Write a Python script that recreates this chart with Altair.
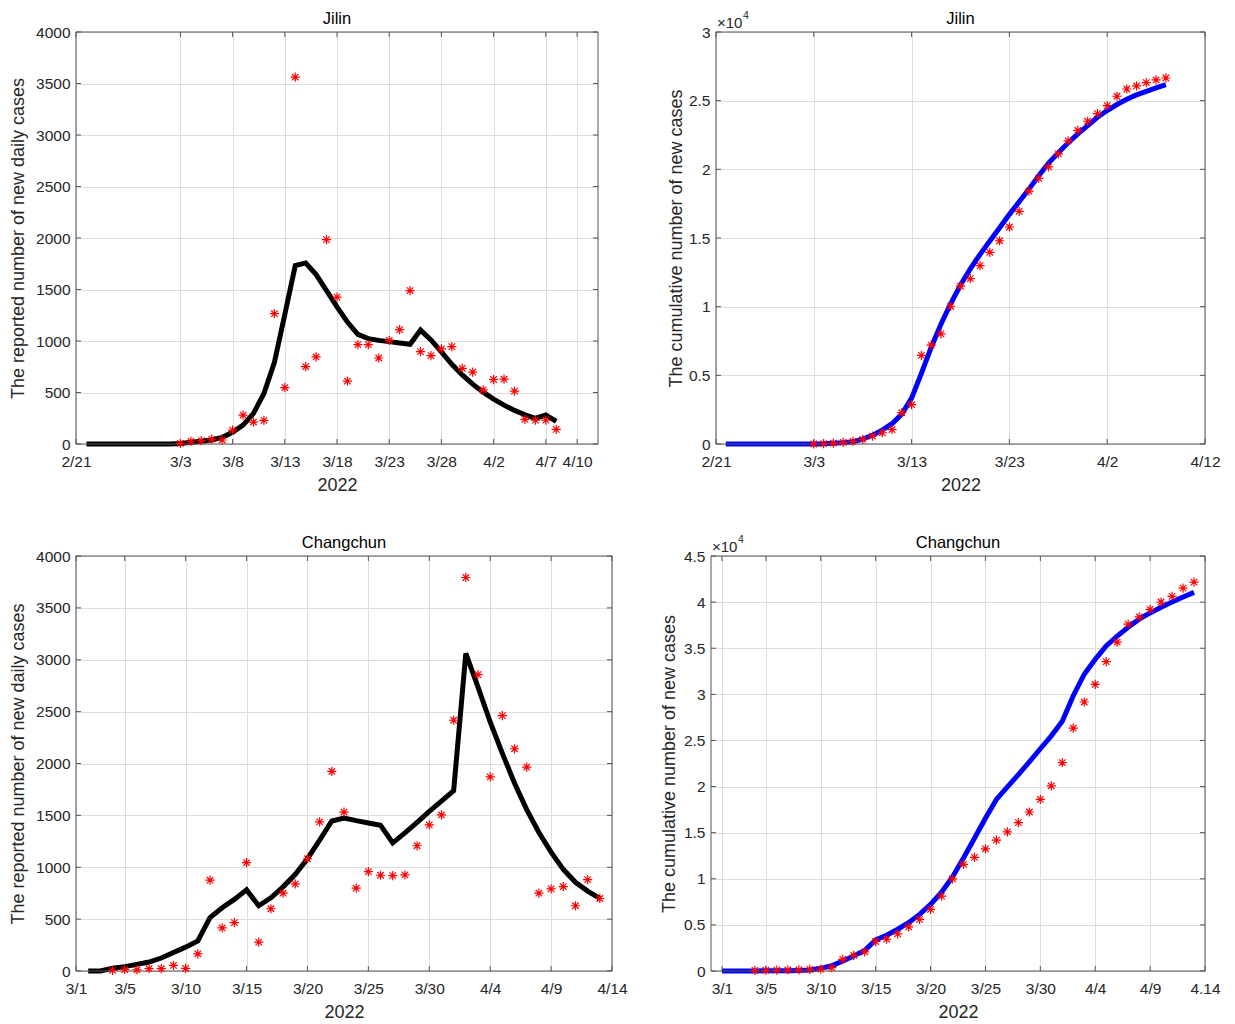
import pandas as pd
import altair as alt


# ================== STYLE ==================

FONT = "Liberation Sans"
TEXT_COLOR = "#262626"
FRAME_COLOR = "#555555"
ASTERISK = "M0,-1L0,1M-1,0L1,0M-0.7,-0.7L0.7,0.7M-0.7,0.7L0.7,-0.7"
TICK_LEN = 5


# ================== DATA ==================

# Jilin, reported daily cases (3/3 .. 4/8)
jilin_obs_start = "2022-03-03"
jilin_daily_obs = [6, 26, 32, 48, 39, 135, 281, 213, 229, 1265, 548, 3561, 752,
                   845, 1984, 1426, 610, 965, 965, 835, 1006, 1110, 1490, 897,
                   858, 923, 945, 735, 697, 526, 626, 629, 513, 239, 232, 232, 142]

# Jilin, fitted daily cases (2/22 .. 4/8)
jilin_fit_start = "2022-02-22"
jilin_daily_fit = [0, 0, 0, 0, 0, 0, 0, 0, 0, 5, 16, 26, 39, 65, 113, 184, 297,
                   490, 790, 1258, 1732, 1758, 1645, 1490, 1332, 1184, 1065,
                   1023, 1006, 994, 981, 968, 1106, 1010, 894, 774, 671, 581,
                   503, 435, 377, 326, 284, 248, 281, 219]

# Jilin, cumulative cases (observed 3/3 .. 4/8, fitted 2/22 .. 4/8)
jilin_cum_obs = [0, 30, 70, 120, 190, 340, 580, 820, 1040, 2280, 2860, 6450,
                 7200, 8020, 10030, 11490, 12040, 12990, 13960, 14800, 15800,
                 16940, 18420, 19340, 20180, 21130, 22070, 22830, 23500, 24060,
                 24640, 25320, 25850, 26070, 26310, 26510, 26650]
jilin_cum_fit = [0, 0, 0, 0, 0, 0, 0, 0, 0, 5, 10, 50, 100, 170, 360, 630, 1020,
                 1480, 2180, 3340, 5140, 7030, 8720, 10230, 11580, 12750, 13810,
                 14780, 15750, 16720, 17640, 18560, 19530, 20450, 21200, 21930,
                 22580, 23190, 23790, 24280, 24720, 25100, 25420, 25680, 25930,
                 26170]

# Changchun, reported daily cases (3/4 .. 4/13)
changchun_obs_start = "2022-03-04"
changchun_daily_obs = [6, 13, 10, 22, 22, 54, 26, 166, 875, 415, 466, 1044, 278,
                       600, 750, 840, 1082, 1437, 1925, 1532, 798, 958, 923, 919,
                       926, 1207, 1408, 1504, 2417, 3793, 2857, 1871, 2461, 2142,
                       1966, 750, 792, 814, 629, 881, 699]

# Changchun, fitted daily cases (3/2 .. 4/13)
changchun_fit_start = "2022-03-02"
changchun_daily_fit = [0, 0, 26, 42, 64, 86, 125, 179, 230, 290, 514, 610, 690,
                       782, 629, 706, 811, 932, 1082, 1261, 1446, 1475, 1449,
                       1427, 1405, 1235, 1331, 1433, 1539, 1638, 1737, 3061,
                       2736, 2400, 2097, 1810, 1555, 1335, 1146, 980, 855, 770,
                       700]

# Changchun, cumulative cases (observed 3/4 .. 4/13, fitted 3/1 .. 4/13)
changchun_cum_obs = [70, 80, 90, 110, 130, 180, 200, 370, 1250, 1690, 2080, 3200,
                     3450, 4020, 4780, 5600, 6680, 8120, 9990, 11570, 12320,
                     13250, 14190, 15090, 16090, 17240, 18610, 20080, 22590,
                     26330, 29170, 31070, 33550, 35670, 37610, 38400, 39220,
                     40010, 40620, 41520, 42170]
changchun_cum_fit_start = "2022-03-01"
changchun_cum_fit = [0, 0, 0, 10, 20, 30, 40, 60, 100, 290, 570, 1080, 1620,
                     2230, 3380, 3880, 4530, 5240, 6140, 7220, 8550, 10200, 12250,
                     14400, 16560, 18610, 19970, 21300, 22670, 24100, 25500,
                     27080, 29850, 32180, 33800, 35240, 36310, 37280, 38150,
                     38830, 39440, 40010, 40550, 41060]

# Axis ticks and limits
jilin_daily_ticks = ["2022-02-21", "2022-03-03", "2022-03-08", "2022-03-13",
                     "2022-03-18", "2022-03-23", "2022-03-28", "2022-04-02",
                     "2022-04-07", "2022-04-10"]
jilin_cum_ticks = ["2022-02-21", "2022-03-03", "2022-03-13", "2022-03-23",
                   "2022-04-02", "2022-04-12"]
jilin_xlim = ["2022-02-21", "2022-04-12"]

changchun_ticks = ["2022-03-01", "2022-03-05", "2022-03-10", "2022-03-15",
                   "2022-03-20", "2022-03-25", "2022-03-30", "2022-04-04",
                   "2022-04-09", "2022-04-14"]
changchun_daily_xlim = ["2022-03-01", "2022-04-14"]
changchun_cum_xlim = ["2022-02-28", "2022-04-14"]


# ================== HELPERS ==================

def to_dt(s):
    d = pd.Timestamp(s)
    return alt.DateTime(year=d.year, month=d.month, date=d.day)


def series_df(start, values):
    return pd.DataFrame({"date": pd.date_range(start, periods=len(values)),
                         "value": values})


def text_layer(text, x, y, size, align="center", color=TEXT_COLOR):
    return (
        alt.Chart(pd.DataFrame({"t": [text]}))
        .mark_text(align=align, baseline="middle", fontSize=size, font=FONT,
                   color=color)
        .encode(x=alt.value(x), y=alt.value(y), text="t:N")
    )


def frame_layer(width, height):
    # box drawn over the grid so the axes frame stays dark on every side
    return (
        alt.Chart(pd.DataFrame({"f": [0]}))
        .mark_rect(fillOpacity=0, stroke=FRAME_COLOR, strokeWidth=1)
        .encode(x=alt.value(0), x2=alt.value(width),
                y=alt.value(0), y2=alt.value(height))
    )


def inner_ticks(x_ticks, y_values, width, height):
    # MATLAB-style ticks pointing into the box on all four sides
    xdf = pd.DataFrame({"date": pd.to_datetime(x_ticks)})
    ydf = pd.DataFrame({"value": y_values})
    half = TICK_LEN / 2
    out = []
    for ypos in (height - half, half):
        out.append(
            alt.Chart(xdf)
            .mark_tick(color=FRAME_COLOR, size=TICK_LEN, thickness=1, opacity=1)
            .encode(x="date:T", y=alt.value(ypos))
        )
    for xpos in (half, width - half):
        out.append(
            alt.Chart(ydf)
            .mark_tick(color=FRAME_COLOR, size=TICK_LEN, thickness=1, opacity=1)
            .encode(y="value:Q", x=alt.value(xpos))
        )
    return out


def panel(title, y_title, fit_start, fit_vals, obs_start, obs_vals, line_color,
          x_lim, x_ticks, y_max, y_step, width, height, title_pad,
          exponent=False, label_fix=None):
    label_expr = "datum.label"
    if label_fix:
        label_expr = f"datum.label == '{label_fix[0]}' ? '{label_fix[1]}' : datum.label"

    y_values = list(range(0, y_max + 1, y_step))
    x = alt.X(
        "date:T",
        title="2022",
        scale=alt.Scale(domain=[to_dt(v) for v in x_lim], nice=False),
        axis=alt.Axis(values=[to_dt(t) for t in x_ticks], format="%-m/%-d",
                      labelExpr=label_expr, labelOverlap=False,
                      labelFlush=False, labelPadding=10, titlePadding=7),
    )
    y_axis_kwargs = dict(values=y_values, titlePadding=title_pad, labelPadding=6)
    if exponent:
        y_axis_kwargs["labelExpr"] = "datum.value / 10000"
    else:
        y_axis_kwargs["format"] = "d"
    y = alt.Y("value:Q", title=y_title,
              scale=alt.Scale(domain=[0, y_max], nice=False),
              axis=alt.Axis(**y_axis_kwargs))

    line = (
        alt.Chart(series_df(fit_start, fit_vals))
        .mark_line(color=line_color, strokeWidth=5)
        .encode(x=x, y=y)
    )
    points = (
        alt.Chart(series_df(obs_start, obs_vals))
        .mark_point(shape=ASTERISK, color="#ff0000", filled=False,
                    size=85, strokeWidth=1.2, opacity=1)
        .encode(x="date:T", y="value:Q")
    )
    layers = [line, frame_layer(width, height)]
    layers += inner_ticks(x_ticks, y_values, width, height)
    layers += [points, text_layer(title, width / 2, -13, 16.5, color="black")]

    if exponent:
        layers += [
            text_layer("\u00d710", 1, -9, 15, align="left"),
            text_layer("4", 27, -16, 10.5, align="left"),
        ]

    return alt.layer(*layers).properties(width=width, height=height)


# ================== PANELS ==================

p1 = panel("Jilin", "The reported number of new daily cases",
           jilin_fit_start, jilin_daily_fit, jilin_obs_start, jilin_daily_obs,
           "black", jilin_xlim, jilin_daily_ticks, 4000, 500, 522, 412, 8)

p2 = panel("Jilin", "The cumulative number of new cases",
           jilin_fit_start, jilin_cum_fit, jilin_obs_start, jilin_cum_obs,
           "#0000ff", jilin_xlim, jilin_cum_ticks, 30000, 5000, 489, 412, 3,
           exponent=True)

p3 = panel("Changchun", "The reported number of new daily cases",
           changchun_fit_start, changchun_daily_fit, changchun_obs_start,
           changchun_daily_obs, "black", changchun_daily_xlim, changchun_ticks,
           4000, 500, 536, 415, 8)

p4 = panel("Changchun", "The cumulative number of new cases",
           changchun_cum_fit_start, changchun_cum_fit, changchun_obs_start,
           changchun_cum_obs, "#0000ff", changchun_cum_xlim, changchun_ticks,
           45000, 5000, 494, 415, 5, exponent=True, label_fix=("4/14", "4.14"))

top = alt.hconcat(p1, p2, spacing=67)
bottom = alt.hconcat(p3, p4, spacing=31)

chart = (
    alt.vconcat(top, bottom, spacing=39)
    .properties(padding={"left": 1, "top": 2, "right": 2, "bottom": 2})
    .configure(background="white")
    .configure_view(stroke="transparent")
    .configure_axis(
        labelFont=FONT,
        titleFont=FONT,
        labelFontSize=15.5,
        titleFontSize=18,
        titleFontWeight="normal",
        labelColor=TEXT_COLOR,
        titleColor=TEXT_COLOR,
        gridColor="#dedede",
        gridOpacity=1,
        gridWidth=1,
        domain=False,
        ticks=False,
    )
)

chart.save("out.html", embed_options={"renderer": "svg", "actions": False})
